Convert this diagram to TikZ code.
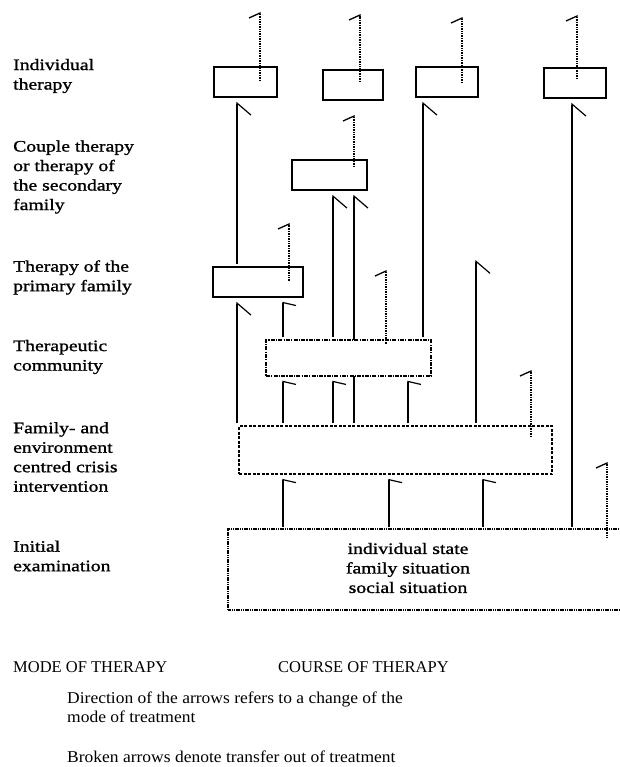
\documentclass[tikz,border=0pt]{standalone}
\usepackage{fontspec}
\setmainfont{Liberation Serif}
\newfontfamily\scanfont{Liberation Serif}[FakeStretch=1.23,FakeBold=1.2]
\newfontfamily\notefont{Liberation Serif}[FakeStretch=1.06]
\usetikzlibrary{arrows.meta,calc,backgrounds}

\tikzset{
  mode/.style={draw, line width=1.6pt, fill=white, inner sep=0pt},
  flow/.style={line width=1.2pt, shorten <=2pt, shorten >=4pt},
  barb/.style={-{Straight Barb[harpoon,swap,length=12pt,width=28pt]}},
  flag/.style={-{Straight Barb[harpoon,swap,length=3pt,width=26pt]}},
  dropout/.style={line width=1.3pt, dash pattern=on 1pt off 0.7pt,
    -{Straight Barb[harpoon,length=5pt,width=22pt]}},
  rowlabel/.style={anchor=west, align=left, inner sep=0pt,
    font=\scanfont\fontsize{16}{19.5}\selectfont},
  note/.style={anchor=west, align=left, inner sep=0pt,
    font=\fontsize{16.5}{19}\selectfont}
}

\begin{document}
\begin{tikzpicture}[x=1pt,y=-1pt] % y runs downwards, 1pt = 1px of the scan
\useasboundingbox (0,0) rectangle (619,767);

%% modes of therapy (left column)
\node[rowlabel] (lIndiv) at (13,76) {Individual\\therapy};
\node[rowlabel] (lCouple) at (13,177) {Couple therapy\\or therapy of\\the secondary\\family};
\node[rowlabel] (lPrimary) at (13,277.5) {Therapy of the\\primary family};
\node[rowlabel] (lTC) at (13,357) {Therapeutic\\community};
\node[rowlabel] (lCrisis) at (13,457) {Family- and\\environment\\centred crisis\\intervention};
\node[rowlabel] (lExam) at (13,556) {Initial\\examination};

%% boxes along the course of therapy
\node[mode, minimum width=63, minimum height=30] (indA) at (245.5,82) {};
\node[mode, minimum width=60, minimum height=30] (indB) at (353,85) {};
\node[mode, minimum width=62, minimum height=30] (indC) at (447,82) {};
\node[mode, minimum width=62, minimum height=30] (indD) at (575,83) {};
\node[mode, minimum width=75, minimum height=30] (couple) at (329.5,175) {};
\node[mode, minimum width=90, minimum height=30] (primary) at (258,282) {};
\node[mode, minimum width=165, minimum height=36, line width=1.4pt,
  dash pattern=on 4pt off 1.2pt on 1.2pt off 1.2pt] (tc) at (348.5,358) {};
\node[mode, minimum width=313, minimum height=48, line width=1.8pt,
  dash pattern=on 3pt off 1.5pt] (crisis) at (395.5,450) {};

% initial examination runs off the right edge
\node[inner sep=0pt, minimum width=391, minimum height=81] (exam) at (423.5,569.5) {};
\draw[line width=1.5pt, dash pattern=on 1.2pt off 0.6pt]
  (exam.north east) -- (exam.north west) -- (exam.south west) -- (exam.south east);
\node[align=center, inner sep=0pt, font=\scanfont\fontsize{16}{19.5}\selectfont]
  (examtxt) at (408,568) {individual state\\family situation\\social situation};

\coordinate (open) at (476,256);

%% changes of the mode of treatment
\begin{scope}[on background layer]
\fill[white] (0,0) rectangle (619,767);
% from the initial examination
\foreach \x in {283,389,483}
  \draw[flow,flag] (\x,0 |- exam.north) -- (\x,0 |- crisis.south);
\draw[flow,barb] (572,0 |- exam.north) -- (572,0 |- indD.south);
% from crisis intervention
\foreach \x in {283,333,408}
  \draw[flow,flag] (\x,0 |- crisis.north) -- (\x,0 |- tc.south);
\draw[flow,barb] (237,0 |- crisis.north) -- (237,0 |- primary.south);
\draw[flow,barb] (354,0 |- crisis.north) -- (354,0 |- couple.south);
\draw[flow,barb] (open |- crisis.north) -- (open);
% from therapeutic community
\draw[flow,flag] (283,0 |- tc.north) -- (283,0 |- primary.south);
\draw[flow,barb] (333,0 |- tc.north) -- (333,0 |- couple.south);
\draw[flow,barb] (423,0 |- tc.north) -- (423,0 |- indC.south);
% from primary family
\draw[flow,barb] (237,0 |- primary.north) -- (237,0 |- indA.south);
\end{scope}

%% broken arrows: transfer out of treatment
\foreach \b/\n/\x/\y/\d in {indA/outA/260/12/15, indB/outB/360/14/13,
    indC/outC/462/17/17, indD/outD/577/15/12, couple/outCouple/354/115/8,
    primary/outPrimary/289/223/15, tc/outTC/386/270/5,
    crisis/outCrisis/531/370/12, exam/outExam/607/462/9}
  {
  \coordinate (\n) at (\x,\y);
  \draw[dropout] ($(\n |- \b.north)+(0,\d)$) -- (\n);
  }

%% legend
\node[note] (modehead) at (13,667) {MODE OF THERAPY};
\node[note] (coursehead) at (278,667) {COURSE OF THERAPY};
\node[note, font=\notefont\fontsize{16.5}{19}\selectfont] (note1) at (67,707.5)
  {Direction of the arrows refers to a change of the\\mode of treatment};
\node[note, font=\notefont\fontsize{16.5}{19}\selectfont] (note2) at (67,757)
  {Broken arrows denote transfer out of treatment};

\end{tikzpicture}
\end{document}
